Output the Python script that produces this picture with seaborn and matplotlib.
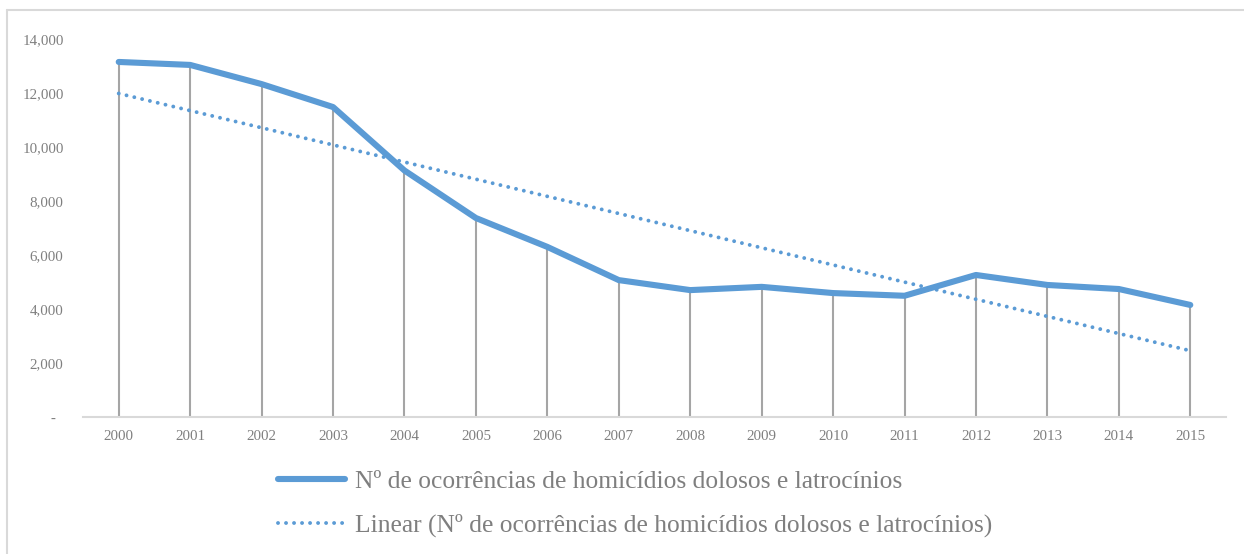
import numpy as np
import pandas as pd
import matplotlib
matplotlib.use('Agg')
import matplotlib.pyplot as plt
import seaborn as sns
from matplotlib.lines import Line2D
from matplotlib.ticker import FuncFormatter

years = list(range(2000, 2016))
ocorrencias = [13150, 13040, 12330, 11480, 9130, 7370, 6300, 5070,
               4700, 4820, 4590, 4490, 5260, 4890, 4740, 4150]
serie = 'Nº de ocorrências de homicídios dolosos e latrocínios'
y_ticks = [0, 2000, 4000, 6000, 8000, 10000, 12000, 14000]

df = pd.DataFrame({'ano': years, 'valor': ocorrencias})
coef = np.polyfit(df['ano'], df['valor'], 1)
df['tendencia'] = np.polyval(coef, df['ano'])

sns.set_style('white')
plt.rcParams['font.family'] = ['Liberation Serif', 'DejaVu Serif']

blue = '#5b9bd5'
gray_txt = '#7f7f7f'
dots = (0, (0.01, 2.05))

fig = plt.figure(figsize=(12.44, 5.54), dpi=100)
ax = fig.add_axes([83 / 1244, 137 / 554, (1226 - 83) / 1244, (515 - 137) / 554])

ax.vlines(df['ano'], 0, df['valor'], color='#a5a5a5', lw=1.5, zorder=1)
sns.lineplot(data=df, x='ano', y='tendencia', ax=ax, color=blue, lw=2.8,
             linestyle=dots, dash_capstyle='round', zorder=2)
sns.lineplot(data=df, x='ano', y='valor', ax=ax, color=blue, lw=4.4,
             solid_capstyle='round', solid_joinstyle='round', zorder=3)

ax.set_xlim(1999.5, 2015.5)
ax.set_ylim(0, 14000)
ax.set_xticks(years)
ax.set_yticks(y_ticks)
ax.yaxis.set_major_formatter(FuncFormatter(lambda v, p: '-  ' if v == 0 else f'{int(v):,}'))
ax.tick_params(axis='both', length=0, labelsize=10.8, labelcolor=gray_txt)
ax.tick_params(axis='y', pad=14)
ax.tick_params(axis='x', pad=9)
ax.set_xlabel('')
ax.set_ylabel('')
for s in ['top', 'right', 'left']:
    ax.spines[s].set_visible(False)
ax.spines['bottom'].set_color('#d9d9d9')
ax.spines['bottom'].set_linewidth(1.5)

handles = [Line2D([], [], color=blue, lw=4.4, solid_capstyle='round'),
           Line2D([], [], color=blue, lw=2.8, linestyle=dots, dash_capstyle='round')]
labels = [serie, f'Linear ({serie})']
fig.legend(handles, labels, loc='center left', bbox_to_anchor=(278 / 1244, 1 - 503.5 / 554),
           frameon=False, fontsize=18.4, labelcolor=gray_txt, handlelength=2.62,
           handletextpad=0.4, labelspacing=0.8, borderpad=0, borderaxespad=0)

fig.add_artist(Line2D([7.5 / 1244, 7.5 / 1244], [0, 1 - 10 / 554], color='#d9d9d9', lw=1.5))
fig.add_artist(Line2D([7.5 / 1244, 1], [1 - 10 / 554, 1 - 10 / 554], color='#d9d9d9', lw=1.5))

fig.savefig('out.png', dpi=100, facecolor='white')
